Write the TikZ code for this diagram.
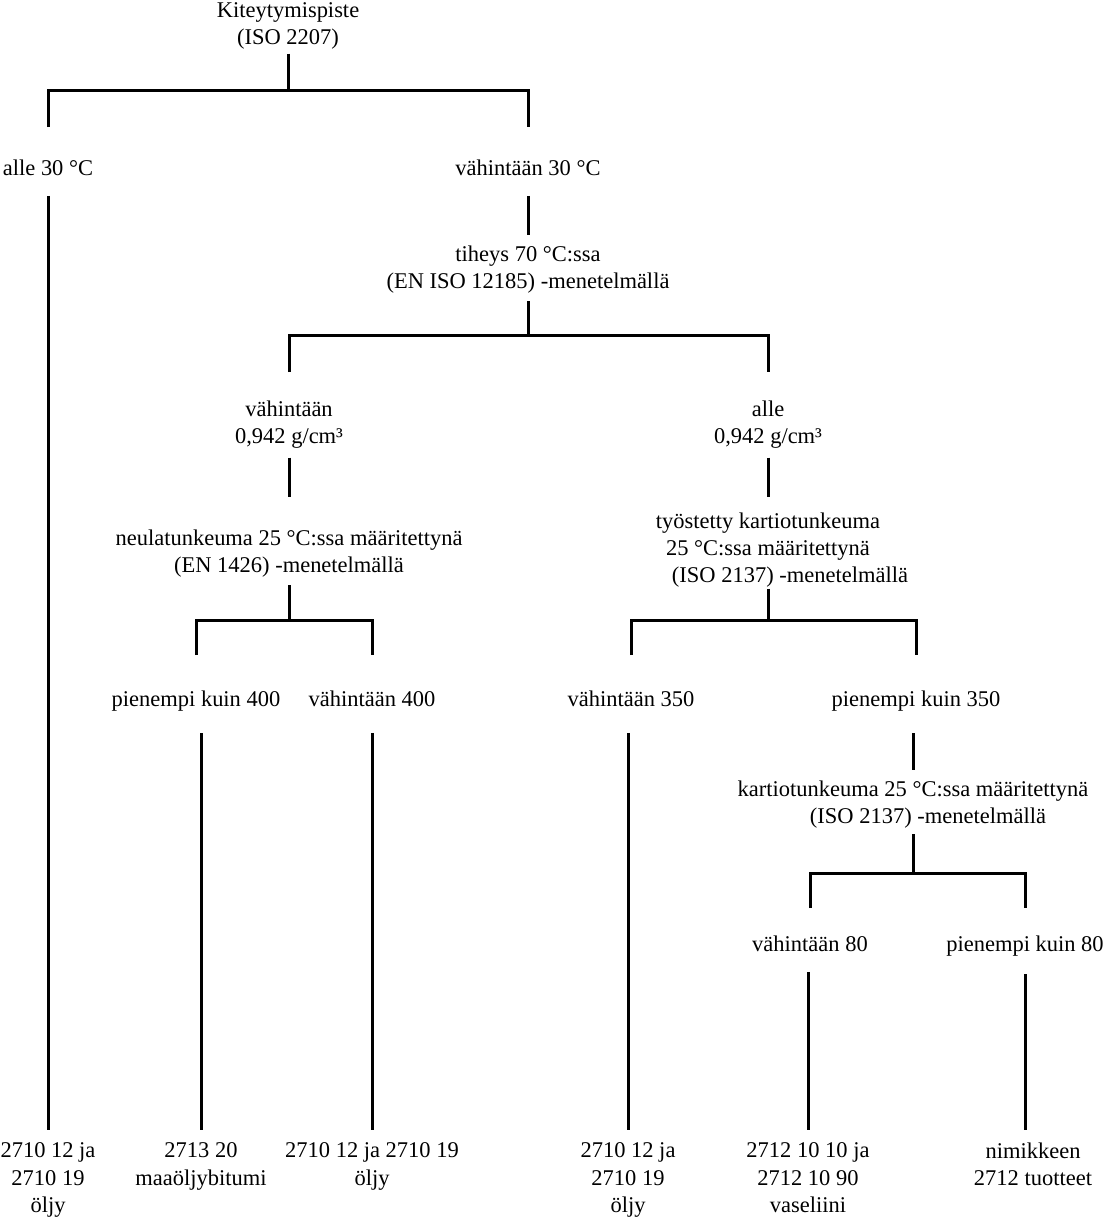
\documentclass[tikz,border=0pt]{standalone}
\usepackage{fontspec}
\setmainfont{Liberation Serif}
\newlength\pxu
\setlength\pxu{0.02cm}
\tikzset{
  lbl/.style={anchor=north, align=center, inner sep=0pt, outer sep=0pt, font=\fontsize{12.8}{15.4}\selectfont},
  link/.style={line width=3\pxu},
}
\begin{document}
\begin{tikzpicture}[x=0.02cm,y=-0.02cm]
\useasboundingbox (0,0) rectangle (1103,1217);
\node[lbl] (root) at (288,3) {Kiteytymispiste\\(ISO 2207)};
\coordinate (j0) at (288,90);
\node[lbl] (alle30) at (48,160) {alle 30 °C};
\node[lbl] (vah30) at (528,160) {vähintään 30 °C};
\node[lbl] (tiheys) at (528,246) {tiheys 70 °C:ssa\\(EN ISO 12185) -menetelmällä};
\coordinate (j1) at (528,335);
\node[lbl] (vah942) at (289,401) {vähintään\\0,942 g/cm³};
\node[lbl] (alle942) at (768,401) {alle\\0,942 g/cm³};
\node[lbl] (neula) at (289,530) {neulatunkeuma 25 °C:ssa määritettynä\\(EN 1426) -menetelmällä};
\node[lbl] (tyost) at (768,513) {työstetty kartiotunkeuma\\25 °C:ssa määritettynä\hspace*{16\pxu}\\\hspace*{44\pxu}(ISO 2137) -menetelmällä};
\coordinate (j2) at (289,620);
\coordinate (j3) at (768,620);
\node[lbl] (pk400) at (196,691) {pienempi kuin 400};
\node[lbl] (v400) at (372,691) {vähintään 400};
\node[lbl] (v350) at (631,691) {vähintään 350};
\node[lbl] (pk350) at (916,691) {pienempi kuin 350};
\node[lbl] (kartio) at (913,781) {kartiotunkeuma 25 °C:ssa määritettynä\\\hspace*{30\pxu}(ISO 2137) -menetelmällä};
\coordinate (j4) at (913,873);
\node[lbl] (v80) at (810,936) {vähintään 80};
\node[lbl] (pk80) at (1025,936) {pienempi kuin 80};
\node[lbl] (b1) at (48,1143) {2710 12 ja\\2710 19\\öljy};
\node[lbl] (b2) at (201,1143) {2713 20\\maaöljybitumi};
\node[lbl] (b3) at (372,1143) {2710 12 ja 2710 19\\öljy};
\node[lbl] (b4) at (628,1143) {2710 12 ja\\2710 19\\öljy};
\node[lbl] (b5) at (808,1143) {2712 10 10 ja\\2712 10 90\\vaseliini};
\node[lbl] (b6) at (1033,1143) {nimikkeen\\2712 tuotteet};
\draw[link, shorten <=4\pxu] (root) -- (j0);
\draw[link, shorten <=33\pxu, shorten >=33\pxu] (alle30) |- (j0) -| (vah30);
\draw[link, shorten <=20\pxu, shorten >=13\pxu] (alle30) -- (b1);
\draw[link, shorten <=20\pxu, shorten >=11\pxu] (vah30) -- (tiheys);
\draw[link, shorten <=8\pxu] (tiheys) -- (j1);
\draw[link, shorten <=29\pxu, shorten >=29\pxu] (vah942) |- (j1) -| (alle942);
\draw[link, shorten <=9\pxu, shorten >=33\pxu] (vah942) -- (neula);
\draw[link, shorten <=9\pxu, shorten >=16\pxu] (alle942) -- (tyost);
\draw[link, shorten <=8\pxu] (neula) -- (j2);
\draw[link, shorten <=36\pxu, shorten >=36\pxu] (pk400) |- (j2) -| (v400);
\draw[link, shorten <=1\pxu] (tyost) -- (j3);
\draw[link, shorten <=36\pxu, shorten >=36\pxu] (v350) |- (j3) -| (pk350);
\draw[link, shorten <=22\pxu, shorten >=13\pxu] (pk400.south -| b2) -- (b2);
\draw[link, shorten <=26\pxu, shorten >=13\pxu] (v400) -- (b3);
\draw[link, shorten <=26\pxu, shorten >=13\pxu] (v350.south -| b4) -- (b4);
\draw[link, shorten <=22\pxu, shorten >=11\pxu] (pk350.south -| kartio) -- (kartio);
\draw[link, shorten <=6\pxu] (kartio) -- (j4);
\draw[link, shorten <=28\pxu, shorten >=28\pxu] (v80) |- (j4) -| (pk80);
\draw[link, shorten <=20\pxu, shorten >=13\pxu] (v80.south -| b5) -- (b5);
\draw[link, shorten <=18\pxu, shorten >=13\pxu] (pk80) -- (pk80 |- b6.north);
\end{tikzpicture}
\end{document}
